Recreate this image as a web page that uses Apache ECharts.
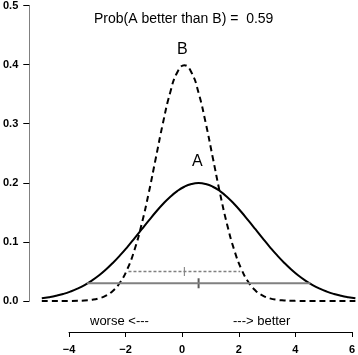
<!DOCTYPE html>
<html>
<head>
<meta charset="utf-8">
<script src="https://cdn.jsdelivr.net/npm/echarts@6/dist/echarts.min.js"></script>
<style>
  html, body { margin: 0; padding: 0; background: #fff; }
  #chart { width: 358px; height: 355px; }
</style>
</head>
<body>
<div id="chart"></div>
<script>
// x grid for both densities
const xs = [-5, -4.75, -4.5, -4.25, -4, -3.75, -3.5, -3.25, -3, -2.75, -2.5, -2.25, -2, -1.75, -1.5, -1.25, -1, -0.75, -0.5, -0.25,
  0, 0.25, 0.5, 0.75, 1, 1.25, 1.5, 1.75, 2, 2.25, 2.5, 2.75, 3, 3.25, 3.5, 3.75, 4, 4.25, 4.5, 4.75, 5, 5.25, 5.5, 5.75, 6]
// density of A (solid)
const densA = [0.0045, 0.0064, 0.0088, 0.0119, 0.0159, 0.0209, 0.027, 0.0344, 0.0431, 0.0533, 0.0648, 0.0775, 0.0913, 0.1059, 0.121, 0.136, 0.1506, 0.1641, 0.176, 0.1859,
  0.1933, 0.1979, 0.1995, 0.1979, 0.1933, 0.1859, 0.176, 0.1641, 0.1506, 0.136, 0.121, 0.1059, 0.0913, 0.0775, 0.0648, 0.0533, 0.0431, 0.0344, 0.027, 0.0209, 0.0159, 0.0119, 0.0088, 0.0064, 0.0045]
// density of B (dashed)
const densB = [0, 0, 0, 0, 0.0001, 0.0004, 0.0009, 0.002, 0.0044, 0.0091, 0.0175, 0.0317, 0.054, 0.0863, 0.1295, 0.1826, 0.242, 0.3011, 0.3521, 0.3867,
  0.3989, 0.3867, 0.3521, 0.3011, 0.242, 0.1826, 0.1295, 0.0863, 0.054, 0.0317, 0.0175, 0.0091, 0.0044, 0.002, 0.0009, 0.0004, 0.0001, 0, 0, 0, 0, 0, 0, 0, 0]
// 95% intervals, means, and the heights they are drawn at
const intervalA = [-3.42, 4.42]
const intervalB = [-1.96, 1.96]
const meanA = 0.5
const meanB = 0
const levelA = 0.03
const levelB = 0.05
const xTicks = [-4, -2, 0, 2, 4, 6]
const yTicks = [0, 0.1, 0.2, 0.3, 0.4, 0.5]
const probText = 'Prob(A better than B) =  0.59'

const FONT = 'Liberation Sans, Arial, sans-serif'
const chart = echarts.init(document.getElementById('chart'))

const fmtX = (v) => (v < 0 ? '\u2212' + Math.abs(v) : String(v))

chart.setOption({
  animation: false,
  textStyle: { fontFamily: FONT },
  grid: [
    { left: 40.4, right: 2.6, top: 4, bottom: 54 },
    { left: 69, right: 3, bottom: 23, height: 1 },
  ],
  xAxis: [
    { gridIndex: 0, type: 'value', min: -5, max: 6, show: false },
    {
      gridIndex: 1,
      type: 'value',
      min: xTicks[0],
      max: xTicks[xTicks.length - 1],
      interval: 2,
      position: 'bottom',
      axisLine: { onZero: false, lineStyle: { color: '#000', width: 1 } },
      axisTick: { inside: false, length: 5, lineStyle: { color: '#000' } },
      axisLabel: { margin: 12, fontSize: 11, color: '#000', fontWeight: 'bold', formatter: fmtX },
      splitLine: { show: false },
    },
  ],
  yAxis: [
    {
      gridIndex: 0,
      type: 'value',
      min: yTicks[0],
      max: yTicks[yTicks.length - 1],
      interval: 0.1,
      offset: 12.5,
      axisLine: { show: true, onZero: false, lineStyle: { color: '#808080', width: 1 } },
      axisTick: { show: true, inside: false, length: 6, lineStyle: { color: '#000' } },
      axisLabel: { margin: 11, fontSize: 11, color: '#000', fontWeight: 'bold', formatter: (v) => v.toFixed(1) },
      splitLine: { show: false },
    },
    { gridIndex: 1, type: 'value', show: false },
  ],
  series: [
    {
      type: 'line',
      data: xs.map((x, i) => [x, densA[i]]),
      smooth: true,
      showSymbol: false,
      lineStyle: { color: '#000', width: 2 },
    },
    {
      type: 'line',
      data: xs.map((x, i) => [x, densB[i]]),
      smooth: true,
      showSymbol: false,
      lineStyle: { color: '#000', width: 2, type: [6, 4] },
    },
    {
      type: 'line',
      data: intervalA.map((x) => [x, levelA]),
      showSymbol: false,
      lineStyle: { color: '#808080', width: 2 },
    },
    {
      type: 'line',
      data: intervalB.map((x) => [x, levelB]),
      showSymbol: false,
      lineStyle: { color: '#808080', width: 1.5, type: [3, 2] },
    },
    {
      type: 'scatter',
      data: [[meanA, levelA]],
      symbol: 'rect',
      symbolSize: [2, 10],
      itemStyle: { color: '#333' },
    },
    {
      type: 'scatter',
      data: [[meanB, levelB]],
      symbol: 'rect',
      symbolSize: [1, 9],
      itemStyle: { color: '#555' },
    },
  ],
  graphic: [
    { type: 'text', left: 94, top: 12, style: { text: probText, font: '14px ' + FONT, fill: '#000' } },
    { type: 'text', left: 177, top: 42, style: { text: 'B', font: '16px ' + FONT, fill: '#000' } },
    { type: 'text', left: 192, top: 154, style: { text: 'A', font: '16px ' + FONT, fill: '#000' } },
    { type: 'text', left: 90, top: 315, style: { text: 'worse <---', font: '13px ' + FONT, fill: '#000' } },
    { type: 'text', left: 233, top: 315, style: { text: '---> better', font: '13px ' + FONT, fill: '#000' } },
  ],
})
</script>
</body>
</html>
